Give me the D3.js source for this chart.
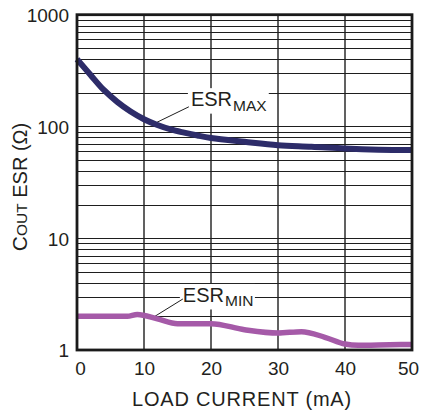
<!DOCTYPE html>
<html>
<head>
<meta charset="utf-8">
<script src="https://cdn.jsdelivr.net/npm/d3@7"></script>
<style>
body { margin: 0; background: #fff; }
text { font-family: "Liberation Sans", Arial, Helvetica, sans-serif; fill: #231f20; }
</style>
</head>
<body>
<script>
var width = 424, height = 415;

// ESR max curve (mA, ohm)
var esrMaxCurrent = [0, 2, 4, 6, 8, 10, 12, 14, 16, 18, 20, 25, 30, 35, 40, 45, 50];
var esrMaxValue   = [400, 290, 212, 166, 136, 116, 103, 94, 88, 83, 79, 73, 68, 66, 63.5, 62, 61.5];

// ESR min curve (mA, ohm)
var esrMinCurrent = [0, 2, 4, 6, 7.5, 9, 12, 15, 20, 25, 30, 33.5, 37, 40, 42, 45, 50];
var esrMinValue   = [2.0, 2.0, 2.0, 2.0, 2.0, 2.08, 1.9, 1.72, 1.72, 1.52, 1.42, 1.46, 1.3, 1.13, 1.1, 1.11, 1.12];

var xTicks = [0, 10, 20, 30, 40, 50];
var yTicks = [1, 10, 100, 1000];
var xTitle = "LOAD CURRENT (mA)";

var svg, x, y;

function init() {
    svg = d3.select("body").append("svg")
        .attr("width", width)
        .attr("height", height);

    x = d3.scaleLinear().domain([0, 50]).range([77, 412]);
    y = d3.scaleLog().domain([1, 1000]).range([350, 14.7]);

    drawGrid();
    drawLabels();
    drawCurves();
    drawAxes();
}

function drawGrid() {
    var grid = svg.append("g").attr("class", "grid");

    // horizontal log gridlines 1,2,...,9,10,20,...
    grid.selectAll("line.h")
        .data(y.ticks())
        .enter().append("line")
        .attr("class", "h")
        .attr("x1", x(0)).attr("x2", x(50))
        .attr("y1", function(d){ return Math.round(y(d)) + 0.5; })
        .attr("y2", function(d){ return Math.round(y(d)) + 0.5; })
        .attr("stroke", "#1e1e1e")
        .attr("stroke-width", 1.1);

    grid.selectAll("line.v")
        .data(xTicks.slice(1, -1))
        .enter().append("line")
        .attr("class", "v")
        .attr("x1", function(d){ return x(d); })
        .attr("x2", function(d){ return x(d); })
        .attr("y1", y(1000)).attr("y2", y(1))
        .attr("stroke", "#1e1e1e")
        .attr("stroke-width", 1.4);
}

function addLabel(name, sub, pos, leader) {
    var g = svg.append("g");
    var t = g.append("text")
        .attr("x", x(pos[0]))
        .attr("y", y(pos[1]))
        .attr("font-size", "20px");
    t.append("tspan").text(name);
    t.append("tspan")
        .attr("dx", 1)
        .attr("dy", 4.5)
        .attr("font-size", "15.5px")
        .text(sub);

    // white box knocks out the grid behind the label
    var bb = t.node().getBBox();
    g.insert("rect", "text")
        .attr("x", bb.x - 3)
        .attr("y", bb.y)
        .attr("width", bb.width + 4.5)
        .attr("height", bb.height)
        .attr("fill", "#fff");

    svg.append("line")
        .attr("x1", x(leader[0][0])).attr("y1", y(leader[0][1]))
        .attr("x2", x(leader[1][0])).attr("y2", y(leader[1][1]))
        .attr("stroke", "#1e1e1e")
        .attr("stroke-width", 1);
}

function drawLabels() {
    addLabel("ESR", "MAX", [17.0, 152], [[11.8, 108], [16.7, 150]]);
    addLabel("ESR", "MIN", [15.8, 2.69], [[11.2, 1.93], [15.8, 2.86]]);
}

function drawCurves() {
    var lineMax = d3.line()
        .x(function(d){ return x(d[0]); })
        .y(function(d){ return y(d[1]); })
        .curve(d3.curveCatmullRom.alpha(0.5));

    var lineMin = d3.line()
        .x(function(d){ return x(d[0]); })
        .y(function(d){ return y(d[1]); })
        .curve(d3.curveMonotoneX);

    var maxData = d3.zip(esrMaxCurrent, esrMaxValue);
    var minData = d3.zip(esrMinCurrent, esrMinValue);

    svg.append("path")
        .datum(minData)
        .attr("d", lineMin)
        .attr("fill", "none")
        .attr("stroke", "#a55aa8")
        .attr("stroke-width", 5.5)
        .attr("stroke-linejoin", "round");

    svg.append("path")
        .datum(maxData)
        .attr("d", lineMax)
        .attr("fill", "none")
        .attr("stroke", "#2d2c69")
        .attr("stroke-width", 6)
        .attr("stroke-linejoin", "round");
}

function drawAxes() {
    // frame
    svg.append("rect")
        .attr("x", x(0)).attr("y", y(1000))
        .attr("width", x(50) - x(0))
        .attr("height", y(1) - y(1000))
        .attr("fill", "none")
        .attr("stroke", "#1a1a1a")
        .attr("stroke-width", 2.8);

    var yAxis = svg.append("g")
        .attr("transform", "translate(" + x(0) + ",0)")
        .call(d3.axisLeft(y).tickValues(yTicks).tickSize(0).tickPadding(8)
            .tickFormat(d3.format("d")));

    var xAxis = svg.append("g")
        .attr("transform", "translate(0," + y(1) + ")")
        .call(d3.axisBottom(x).tickValues(xTicks).tickSize(0).tickPadding(12));

    [yAxis, xAxis].forEach(function(a){
        a.select(".domain").remove();
        a.selectAll("text")
            .attr("font-size", "19px")
            .attr("font-family", "'Liberation Sans', Arial, sans-serif")
            .attr("fill", "#231f20");
    });
    yAxis.selectAll("text").attr("dy", "0.36em");
    // end labels sit inside the frame edges
    xAxis.selectAll("text").attr("dx", function(d){
        return d === 0 ? 3 : (d === 50 ? -4 : 0);
    });

    svg.append("text")
        .attr("x", 242)
        .attr("y", 406)
        .attr("text-anchor", "middle")
        .attr("font-size", "20px")
        .attr("letter-spacing", "0.8px")
        .text(xTitle);

    var yt = svg.append("text")
        .attr("transform", "translate(27," + 187 + ") rotate(-90)")
        .attr("text-anchor", "middle")
        .attr("font-size", "20px");
    yt.append("tspan").attr("font-size", "21px").text("C");
    yt.append("tspan").attr("font-size", "15.5px").text("OUT");
    yt.append("tspan").text(" ESR (\u03A9)");
}

init();
</script>
</body>
</html>
